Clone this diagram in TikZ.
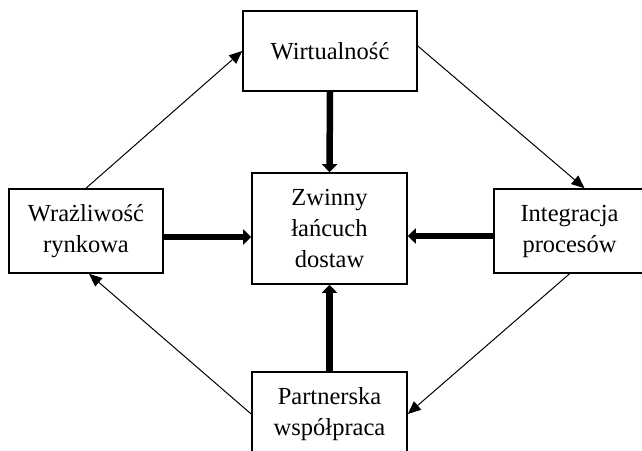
\documentclass[tikz,border=0pt]{standalone}
\usepackage{fontspec}
\setmainfont{Liberation Serif}
\usetikzlibrary{arrows.meta}
\begin{document}
\begin{tikzpicture}[x=1pt,y=-1pt,
  box/.style={draw=black, line width=1.6pt, fill=white, align=center, inner sep=0pt,
    font=\fontsize{24.5}{31}\selectfont},
  thin/.style={line width=1pt, -{Triangle[length=13pt,width=11pt]}},
  thick/.style={line width=6.5pt, -{Triangle[length=8pt,width=15pt]}}]
\useasboundingbox (0,0) rectangle (642,450);
\clip (0,0) rectangle (642,450);
\node[box, minimum width=174pt, minimum height=80pt] (T) at (330,51) {Wirtualność};
\node[box, minimum width=154pt, minimum height=84pt] (L) at (86,231) {Wrażliwość\\rynkowa};
\node[box, minimum width=155pt, minimum height=111pt] (C) at (329.5,228.5) {Zwinny\\łańcuch\\dostaw};
\node[box, minimum width=151pt, minimum height=84pt] (R) at (569.5,231) {Integracja\\procesów};
\node[box, minimum width=155pt, minimum height=84pt] (B) at (329.5,414) {Partnerska\\współpraca};
% thick arrows
\draw[thick] (T.south) -- (C.north);
\draw[thick] (B.north) -- (C.south);
\coordinate (la) at ([yshift=-6pt]L.east);
\draw[thick] (la) -- (la -| C.west);
\coordinate (ra) at ([yshift=-5pt]R.west);
\draw[thick] (ra) -- (ra -| C.east);
% thin arrows
\draw[thin] (L.north) -- (T.west);
\draw[thin] ([yshift=5pt]T.east) -- ([xshift=15pt]R.north);
\draw[thin] (R.south) -- (B.east);
\draw[thin] (B.west) -- ([xshift=3pt]L.south);
\end{tikzpicture}
\end{document}
